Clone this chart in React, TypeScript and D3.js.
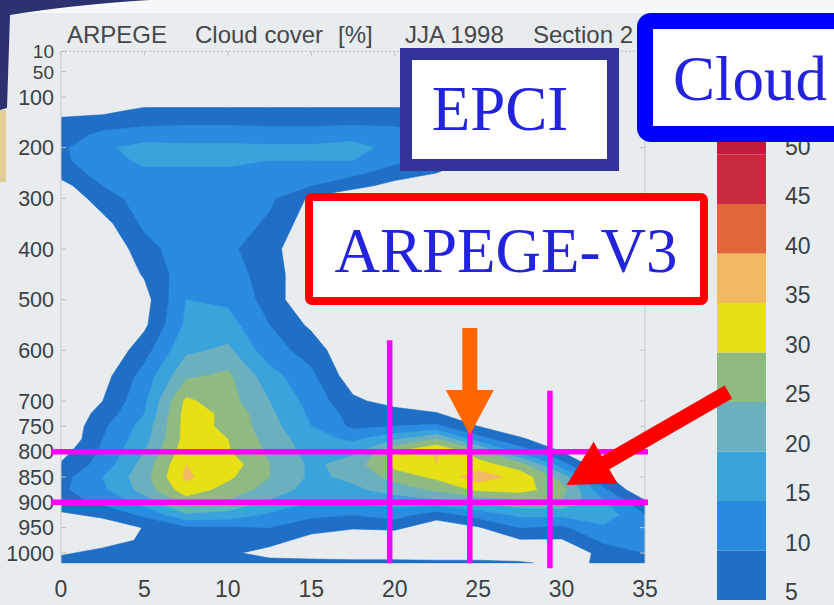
import React from "react";
import * as d3 from "d3";

const W = 834;
const H = 605;

// Grid columns: latitude (deg)
const latitudes = [0, 2.5, 5, 7.5, 10, 12.5, 15, 17.5, 20, 22.5, 25, 27.5, 30, 32.5, 35];
// Grid rows: pressure levels (hPa), top to bottom
const pressures = [
  10, 50, 100, 125, 150, 175, 200, 225, 250, 275, 300, 350, 400, 450, 500, 550,
  600, 650, 700, 725, 750, 775, 800, 825, 850, 875, 900, 925, 950, 975, 1000, 1020,
];
// Cloud cover [%], one row per pressure level, one column per latitude
const cloudCover = [
  [0, 0, 0, 0, 0, 0, 0, 0, 0, 0, 0, 0, 0, 0, 0],
  [0, 0, 0, 0, 0, 0, 0, 0, 0, 0, 0, 0, 0, 0, 0],
  [0, 0, 0, 0, 0, 0, 0, 0, 0, 0, 0, 0, 0, 0, 0],
  [2, 3, 6, 6, 6, 6, 6, 6, 6, 5.5, 3, 0, 0, 0, 0],
  [7, 8, 9, 9, 9, 9, 9, 9, 9, 8, 6, 2, 0, 0, 0],
  [8, 11, 12, 13, 13, 12, 12, 13, 12, 10, 7, 2, 0, 0, 0],
  [9, 14, 17, 16, 16, 16, 16, 17, 13, 10, 6, 0, 0, 0, 0],
  [9, 13, 16, 16, 16, 15, 15, 15, 11, 8, 4, 0, 0, 0, 0],
  [7, 12, 14, 14, 14, 14, 13, 11, 8, 5, 0, 0, 0, 0, 0],
  [3, 10, 13, 14, 14, 13, 10, 7, 3, 0, 0, 0, 0, 0, 0],
  [0, 8, 12, 14, 14, 11, 4, 0, 0, 0, 0, 0, 0, 0, 0],
  [0, 3, 11, 13, 13, 9, 2, 0, 0, 0, 0, 0, 0, 0, 0],
  [0, 0, 8, 13, 11, 7, 0, 0, 0, 0, 0, 0, 0, 0, 0],
  [0, 0, 5.5, 13, 12, 8, 0, 0, 0, 0, 0, 0, 0, 0, 0],
  [0, 0, 3, 15, 14, 8, 0, 0, 0, 0, 0, 0, 0, 0, 0],
  [0, 0, 4, 16, 17, 10, 4, 0, 0, 0, 0, 0, 0, 0, 0],
  [0, 0, 8, 19, 21, 12, 8, 0, 0, 0, 0, 0, 0, 0, 0],
  [0, 3, 12, 24, 26, 17, 11, 2, 0, 0, 0, 0, 0, 0, 0],
  [0, 5, 14, 31, 27, 20, 13, 6, 3, 0, 0, 0, 0, 0, 0],
  [0, 7, 15, 32, 29, 21, 14, 8, 7, 5.5, 0, 0, 0, 0, 0],
  [0, 9, 17, 32, 29, 22, 15, 9, 10, 11, 5, 0, 0, 0, 0],
  [0, 10, 18, 32, 30, 23, 17, 14, 19, 25, 12, 6, 0, 0, 0],
  [3, 11, 20, 33, 30.5, 24, 18, 19, 30, 35.5, 27, 13, 5, 0, 0],
  [5.5, 12, 22, 35, 33, 25, 19, 22, 32, 35, 32, 27, 12, 0, 0],
  [8, 15, 23, 36, 31, 25, 19, 21, 27, 31, 38, 33, 23, 6, 0],
  [9, 14, 22, 33, 28, 23, 18, 19, 22, 26, 31, 32, 27, 11, 0],
  [8, 11, 17, 27, 24, 19, 15, 15, 17, 18, 20, 23, 24, 16, 6],
  [4, 6, 11, 19, 18, 14, 11, 10, 12, 7, 12, 16, 16, 18, 10],
  [0, 2, 5.2, 9, 9, 10, 7, 5.5, 6, 2, 4.5, 10, 9, 14, 12],
  [0, 2, 6, 7, 7, 7, 3, 1, 1, 0, 0, 4.5, 4.5, 11, 11],
  [4, 7, 8, 7, 6, 3, 2, 1, 1, 0, 0, 0, 0, 7, 10],
  [8, 9, 9, 8, 8, 7, 7, 7, 7, 7, 7, 6, 3, 6, 8],
];

// Filled contour levels and their colours
const contourLevels = [5, 10, 15, 20, 25, 30, 35, 40, 45, 50];
const levelColors = [
  "#1f6fc6", "#2a8be0", "#3aa3dc", "#6db0bd", "#8fbb82",
  "#e6e014", "#f2b862", "#e0673a", "#c82a40", "#c01d3e",
];
const colorbarTicks = [5, 10, 15, 20, 25, 30, 35, 40, 45, 50];

const pressureTicks = [10, 50, 100, 200, 300, 400, 500, 600, 700, 750, 800, 850, 900, 950, 1000];
const latitudeTicks = [0, 5, 10, 15, 20, 25, 30, 35];

const titleParts = [
  { text: "ARPEGE", x: 67 },
  { text: "Cloud cover", x: 195 },
  { text: "[%]", x: 338 },
  { text: "JJA 1998", x: 405 },
  { text: "Section 2", x: 533 },
];

// Highlighted section: pressure band and latitudes
const sectionLevels = [800, 900];
const sectionLats = [
  { lat: 19.7, top: 580, bottom: 1020 },
  { lat: 24.5, top: 580, bottom: 1020 },
  { lat: 29.3, top: 680, bottom: 1030 },
];

// Arrows (latitude, pressure) from tail to tip
const orangeArrow = { from: [24.5, 556], to: [24.5, 767] };
const redArrow = { from: [40.0, 682], to: [30.3, 866] };

function arrowPath(
  x1: number, y1: number, x2: number, y2: number,
  shaftW: number, headL: number, headW: number
) {
  const dx = x2 - x1, dy = y2 - y1;
  const len = Math.hypot(dx, dy);
  const ux = dx / len, uy = dy / len;
  const nx = -uy, ny = ux;
  const bx = x2 - ux * headL, by = y2 - uy * headL;
  const pts = [
    [x1 + (nx * shaftW) / 2, y1 + (ny * shaftW) / 2],
    [bx + (nx * shaftW) / 2, by + (ny * shaftW) / 2],
    [bx + (nx * headW) / 2, by + (ny * headW) / 2],
    [x2, y2],
    [bx - (nx * headW) / 2, by - (ny * headW) / 2],
    [bx - (nx * shaftW) / 2, by - (ny * shaftW) / 2],
    [x1 - (nx * shaftW) / 2, y1 - (ny * shaftW) / 2],
  ];
  return "M" + pts.map((p) => p.join(",")).join("L") + "Z";
}

export default function App() {
  const x = d3.scaleLinear().domain([0, 35]).range([61, 645]);
  const y = d3.scaleLinear().domain([100, 1000]).range([97, 553]);
  const cbar = d3.scaleLinear().domain([5, 55]).range([600, 105]);

  const nx = latitudes.length;
  const ny = pressures.length;
  const values = cloudCover.flat();
  const contours = d3.contours().size([nx, ny]).thresholds(contourLevels)(values);

  // grid coordinate -> data value (value i sits at coordinate i + 0.5)
  const interp = (arr: number[], c: number) => {
    const i = Math.max(0, Math.min(arr.length - 1, c - 0.5));
    const i0 = Math.floor(i);
    const i1 = Math.min(arr.length - 1, i0 + 1);
    const t = i - i0;
    return arr[i0] + (arr[i1] - arr[i0]) * t;
  };
  const contourPath = (mp: any) =>
    mp.coordinates
      .map((poly: number[][][]) =>
        poly
          .map(
            (ring) =>
              "M" +
              ring
                .map(([cx, cy]) => `${x(interp(latitudes, cx)).toFixed(2)},${y(interp(pressures, cy)).toFixed(2)}`)
                .join("L") +
              "Z"
          )
          .join("")
      )
      .join("");

  const plotTop = y(10);
  const plotBottom = y(1020);
  const plotLeft = x(0);
  const plotRight = x(35);

  const axisFont = "'Liberation Sans', Arial, Helvetica, sans-serif";
  const serifFont = "'Liberation Serif', 'Times New Roman', Times, serif";
  const textGrey = "#3d3f42";

  return (
    <svg
      width={W}
      height={H}
      viewBox={`0 0 ${W} ${H}`}
      style={{ position: "absolute", left: 0, top: 0, display: "block" }}
    >
      <defs>
        <clipPath id="plotClip">
          <rect x={plotLeft} y={plotTop} width={plotRight - plotLeft} height={plotBottom - plotTop} />
        </clipPath>
      </defs>

      {/* slide background */}
      <rect x={0} y={0} width={W} height={H} fill="#e9ecef" />
      <rect x={0} y={0} width={W} height={13} fill="#f7f8f9" />
      <path d="M0,0 L150,0 Q70,5 10,15 L7,108 L0,110 Z" fill="#2c3170" />
      <rect x={0} y={110} width={6} height={72} fill="#e3cf95" />

      {/* filled contours */}
      <g clipPath="url(#plotClip)">
        {contours.map((c, i) => (
          <path
            key={c.value}
            d={contourPath(c)}
            fill={levelColors[i]}
            fillRule="evenodd"
            stroke={levelColors[i]}
            strokeWidth={0.6}
            strokeLinejoin="round"
          />
        ))}
      </g>

      {/* axes frame */}
      <line x1={plotLeft} x2={plotRight} y1={plotTop} y2={plotTop} stroke="#b9bec3" strokeWidth={1} strokeDasharray="2,2" />
      <line x1={plotLeft} x2={plotLeft} y1={plotTop} y2={plotBottom} stroke="#c3c7cb" strokeWidth={1} />
      <line x1={plotRight} x2={plotRight} y1={plotTop} y2={plotBottom} stroke="#c3c7cb" strokeWidth={1} />
      {pressureTicks.map((p) => (
        <g key={"pt" + p}>
          <line x1={plotLeft} x2={plotLeft + 5} y1={y(p)} y2={y(p)} stroke="#b9bec3" />
          <line x1={plotRight - 5} x2={plotRight} y1={y(p)} y2={y(p)} stroke="#c3c7cb" />
          <text
            x={54}
            y={y(p)}
            dy="0.36em"
            textAnchor="end"
            fontFamily={axisFont}
            fontSize={p < 100 ? 19 : 21.5}
            fill={textGrey}
          >
            {p}
          </text>
        </g>
      ))}
      {latitudeTicks.map((v) => (
        <g key={"lt" + v}>
          <line x1={x(v)} x2={x(v)} y1={plotTop} y2={plotTop + 4} stroke="#b9bec3" />
          <text
            x={x(v)}
            y={597}
            textAnchor="middle"
            fontFamily={axisFont}
            fontSize={23}
            fill={textGrey}
          >
            {v}
          </text>
        </g>
      ))}

      {/* title */}
      {titleParts.map((t) => (
        <text key={t.text} x={t.x} y={43} fontFamily={axisFont} fontSize={24} fill="#45474b">
          {t.text}
        </text>
      ))}

      {/* colour bar */}
      {contourLevels.map((v, i) => (
        <rect
          key={"cb" + v}
          x={717}
          y={cbar(v + 5)}
          width={49}
          height={cbar(v) - cbar(v + 5)}
          fill={levelColors[i]}
        />
      ))}
      {colorbarTicks.map((v) => (
        <text
          key={"cbt" + v}
          x={785}
          y={cbar(v) - 8}
          dy="0.36em"
          fontFamily={axisFont}
          fontSize={23}
          fill={textGrey}
        >
          {v}
        </text>
      ))}

      {/* highlighted section */}
      {sectionLevels.map((p) => (
        <line key={"sl" + p} x1={51} x2={648} y1={y(p)} y2={y(p)} stroke="#ff00ff" strokeWidth={5.5} />
      ))}
      {sectionLats.map((s) => (
        <line
          key={"sv" + s.lat}
          x1={x(s.lat)}
          x2={x(s.lat)}
          y1={y(s.top)}
          y2={y(s.bottom)}
          stroke="#ff00ff"
          strokeWidth={5.5}
        />
      ))}

      {/* labels */}
      <rect x={406} y={54} width={207} height={111} fill="#ffffff" stroke="#333399" strokeWidth={12} />
      <text x={500} y={130} textAnchor="middle" fontFamily={serifFont} fontSize={63} fill="#2323dd">
        EPCI
      </text>

      <rect x={645} y={21} width={220} height={113} rx={6} fill="#ffffff" stroke="#0000ff" strokeWidth={16} />
      <text x={673} y={100} fontFamily={serifFont} fontSize={63} fill="#2323dd">
        Cloud
      </text>

      <rect x={309} y={197} width={395} height={104} rx={3} fill="#ffffff" stroke="#ff0000" strokeWidth={8} />
      <text x={506} y={272} textAnchor="middle" fontFamily={serifFont} fontSize={63} fill="#2323dd">
        ARPEGE-V3
      </text>

      {/* arrows */}
      <path
        d={arrowPath(
          x(orangeArrow.from[0]), y(orangeArrow.from[1]),
          x(orangeArrow.to[0]), y(orangeArrow.to[1]),
          15, 45, 48
        )}
        fill="#ff6600"
      />
      <path
        d={arrowPath(
          x(redArrow.from[0]), y(redArrow.from[1]),
          x(redArrow.to[0]), y(redArrow.to[1]),
          15, 45, 48
        )}
        fill="#ff0000"
      />
    </svg>
  );
}
